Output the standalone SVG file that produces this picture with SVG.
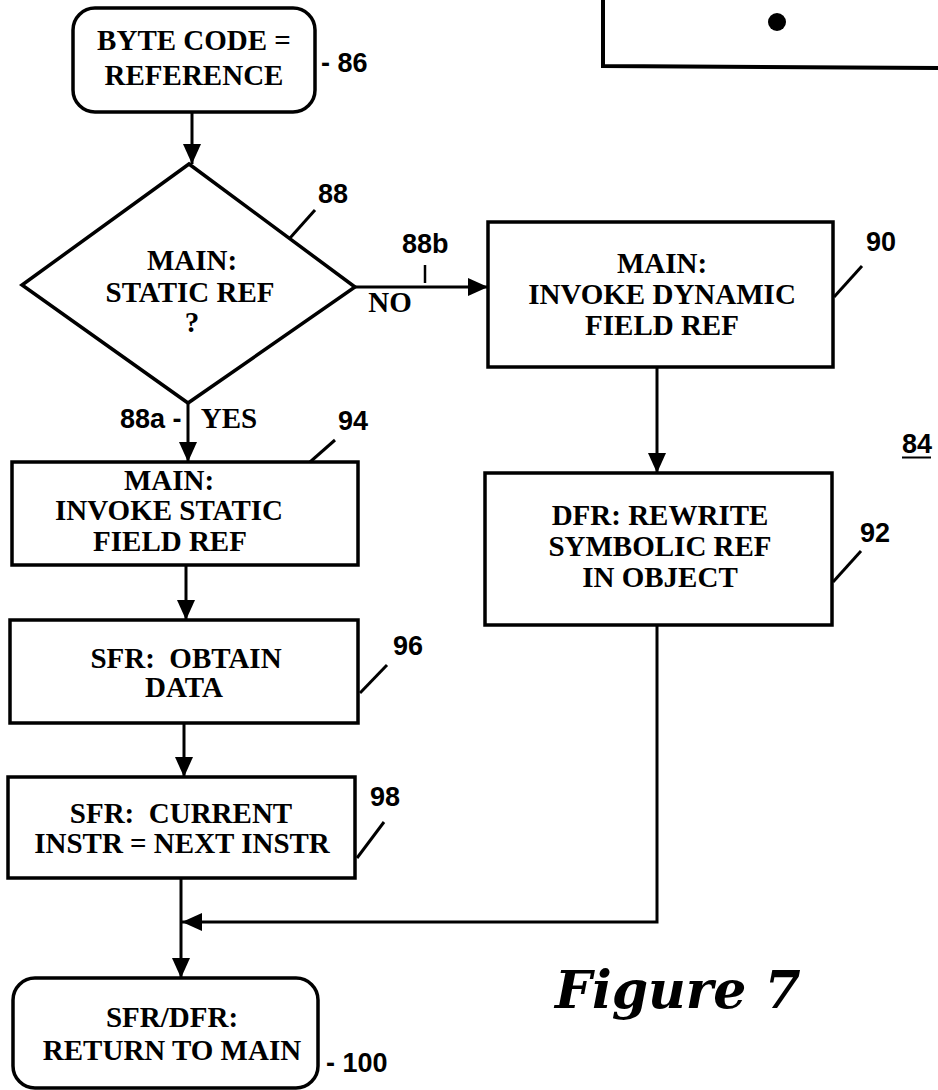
<svg xmlns="http://www.w3.org/2000/svg" width="938" height="1090" viewBox="0 0 938 1090">
<style>
.box{fill:#fff;stroke:#000;stroke-width:3.5}
.ln{fill:none;stroke:#000;stroke-width:3}
.t{font-family:"Liberation Serif","DejaVu Serif",serif;font-weight:bold;font-size:29px;fill:#000;text-anchor:middle;white-space:pre}
.lb{font-family:"Liberation Sans",Arial,sans-serif;font-weight:bold;font-size:27px;fill:#000}
</style>
<defs>
<marker id="ah" markerUnits="userSpaceOnUse" markerWidth="20" markerHeight="18" refX="20" refY="9" orient="auto">
<path d="M0,0 L20,9 L0,18 z" fill="#000"/>
</marker>
</defs>
<rect width="938" height="1090" fill="#fff"/>
<g id="frame84">
<polyline class="ln" points="603,0 603,66 938,68" style="stroke-width:4"/>
<circle cx="777" cy="22" r="9" fill="#000"/>
<text class="lb" x="902" y="453" font-size="25">84</text>
<line x1="902" y1="457.5" x2="931" y2="457.5" stroke="#000" stroke-width="2"/>
</g>
<g id="connectors">
<line class="ln" x1="192" y1="112" x2="192" y2="164" marker-end="url(#ah)"/>
<line class="ln" x1="355" y1="287" x2="488" y2="287" marker-end="url(#ah)"/>
<line class="ln" x1="188" y1="403" x2="188" y2="462" marker-end="url(#ah)"/>
<line class="ln" x1="657" y1="367" x2="657" y2="473" marker-end="url(#ah)"/>
<line class="ln" x1="186" y1="565" x2="186" y2="620" marker-end="url(#ah)"/>
<line class="ln" x1="184" y1="723" x2="184" y2="777" marker-end="url(#ah)"/>
<line class="ln" x1="181" y1="878" x2="181" y2="978" marker-end="url(#ah)"/>
<polyline class="ln" points="657,625 657,922 182,922" marker-end="url(#ah)"/>
<line class="ln" x1="425" y1="265" x2="425" y2="283" style="stroke-width:2.5"/>
<text class="t" x="390" y="312">NO</text>
<text class="lb" x="120" y="428" font-size="25">88a -</text>
<text class="t" x="229" y="428">YES</text>
<text class="lb" x="402" y="253" font-size="25">88b</text>
</g>
<g id="n86">
<rect class="box" x="73" y="8" width="242" height="104" rx="22"/>
<text class="t" x="194" y="50">BYTE CODE =</text>
<text class="t" x="194" y="85">REFERENCE</text>
<text class="lb" x="321" y="72" font-size="30">- 86</text>
</g>
<g id="n88">
<polygon class="box" points="189,164 355,287 188,403 22,285"/>
<text class="t" x="192" y="270">MAIN:</text>
<text class="t" x="190" y="302">STATIC REF</text>
<text class="t" x="192" y="332">?</text>
<line class="ln" x1="290" y1="238" x2="315" y2="210"/>
<text class="lb" x="318" y="203">88</text>
</g>
<g id="n90">
<rect class="box" x="488" y="222" width="345" height="145"/>
<text class="t" x="662" y="273">MAIN:</text>
<text class="t" x="662" y="304">INVOKE DYNAMIC</text>
<text class="t" x="662" y="335">FIELD REF</text>
<line class="ln" x1="834" y1="297" x2="862" y2="266"/>
<text class="lb" x="866" y="251">90</text>
</g>
<g id="n92">
<rect class="box" x="485" y="473" width="347" height="152"/>
<text class="t" x="660" y="525">DFR: REWRITE</text>
<text class="t" x="660" y="556">SYMBOLIC REF</text>
<text class="t" x="660" y="587">IN OBJECT</text>
<line class="ln" x1="833" y1="582" x2="861" y2="551"/>
<text class="lb" x="860" y="542">92</text>
</g>
<g id="n94">
<rect class="box" x="12" y="462" width="346" height="103"/>
<text class="t" x="169" y="490">MAIN:</text>
<text class="t" x="169" y="520">INVOKE STATIC</text>
<text class="t" x="170" y="551">FIELD REF</text>
<line class="ln" x1="310" y1="462" x2="335" y2="440"/>
<text class="lb" x="338" y="430">94</text>
</g>
<g id="n96">
<rect class="box" x="10" y="620" width="348" height="103"/>
<text class="t" x="186" y="668">SFR:  OBTAIN</text>
<text class="t" x="184" y="697">DATA</text>
<line class="ln" x1="360" y1="693" x2="387" y2="665"/>
<text class="lb" x="393" y="655">96</text>
</g>
<g id="n98">
<rect class="box" x="8" y="777" width="347" height="101"/>
<text class="t" x="181" y="823">SFR:  CURRENT</text>
<text class="t" x="182" y="853">INSTR = NEXT INSTR</text>
<line class="ln" x1="357" y1="858" x2="384" y2="822"/>
<text class="lb" x="370" y="806">98</text>
</g>
<g id="n100">
<rect class="box" x="13" y="978" width="305" height="110" rx="22"/>
<text class="t" x="172" y="1027">SFR/DFR:</text>
<text class="t" x="172" y="1060">RETURN TO MAIN</text>
<text class="lb" x="326" y="1072" font-size="28">- 100</text>
</g>
<g id="caption">
<text x="555" y="1008" font-family="'DejaVu Serif',serif" font-weight="bold" font-style="italic" font-size="52" fill="#000">Figure 7</text>
</g>
</svg>
